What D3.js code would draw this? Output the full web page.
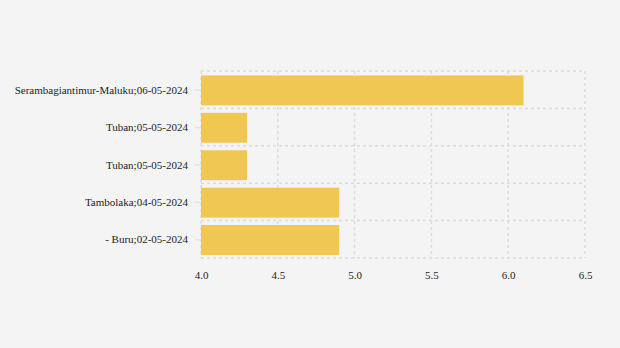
<!DOCTYPE html>
<html><head><meta charset="utf-8">
<script src="https://cdn.jsdelivr.net/npm/d3@7"></script>
<style>html,body{margin:0;padding:0;background:#f4f4f4;}svg{display:block;}</style>
</head><body>
<svg id="c" width="620" height="348"></svg>
<script>
const categories = ["Serambagiantimur-Maluku;06-05-2024","Tuban;05-05-2024","Tuban;05-05-2024 ","Tambolaka;04-05-2024","- Buru;02-05-2024"];
const values = [6.1, 4.3, 4.3, 4.9, 4.9];
const xTicks = [4.0, 4.5, 5.0, 5.5, 6.0, 6.5];

const svg = d3.select("#c");
const m = {l:201, r:585, t:71, b:258};
const x = d3.scaleLinear().domain([4, 6.5]).range([m.l, m.r]);
const y = d3.scaleBand().domain(categories).range([m.t, m.b]).paddingInner(0.2).paddingOuter(0.1);
const yb = d3.scaleBand().domain(categories).range([m.t, m.b]);
const gridStyle = g => g.attr("stroke","#dcdcdc").attr("stroke-width",1.5).attr("stroke-dasharray","3,3").attr("fill","none");

const grid = svg.append("g");
xTicks.forEach(t => grid.append("line").attr("x1",x(t)).attr("x2",x(t)).attr("y1",m.t).attr("y2",m.b).call(gridStyle));
categories.forEach((c,i) => { if(i>0) grid.append("line").attr("x1",m.l).attr("x2",m.r).attr("y1",yb(c)).attr("y2",yb(c)).call(gridStyle); });
grid.append("line").attr("x1",m.l).attr("x2",m.r).attr("y1",m.t).attr("y2",m.t).call(gridStyle);
grid.append("line").attr("x1",m.l).attr("x2",m.r).attr("y1",m.b).attr("y2",m.b).call(gridStyle);

svg.append("g").attr("transform","translate(0,0.7)").selectAll("rect").data(values).join("rect")
  .attr("x", x(4)).attr("y",(d,i)=>y(categories[i]))
  .attr("width", d=>x(d)-x(4)).attr("height", y.bandwidth())
  .attr("fill","#f0c752");

const ya = svg.append("g").attr("transform",`translate(${m.l},0.5)`)
  .call(d3.axisLeft(yb).tickSize(6).tickPadding(7).tickFormat(d=>d.trim()));
ya.select(".domain").remove();
ya.selectAll("line").attr("stroke","#e2e2e2").attr("stroke-width",1.5);
ya.selectAll("text").attr("font-family","'Liberation Serif', serif").attr("font-size",11).attr("fill","#222");

const xa = svg.append("g").attr("transform",`translate(0,${m.b})`)
  .call(d3.axisBottom(x).tickValues(xTicks).tickSize(0).tickPadding(13).tickFormat(d3.format(".1f")));
xa.select(".domain").remove();
xa.selectAll("text").attr("font-family","'Liberation Serif', serif").attr("font-size",11).attr("fill","#222");
</script>
</body></html>
